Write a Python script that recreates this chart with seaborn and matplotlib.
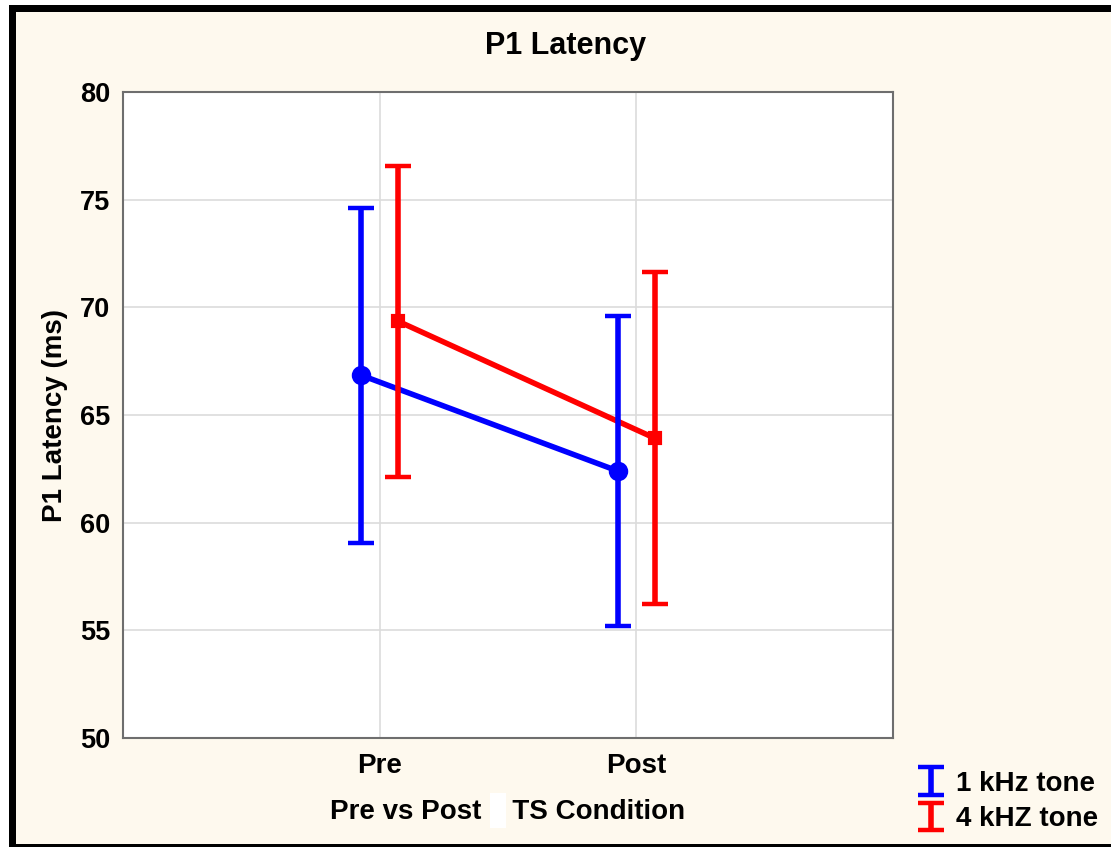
import numpy as np
import pandas as pd
import seaborn as sns
import matplotlib.pyplot as plt
from matplotlib.patches import Rectangle

# data (means and +/- error)
conditions = ['Pre', 'Post']
tones = ['1 kHz tone', '4 kHZ tone']
mean_1k = [66.85, 62.40]
mean_4k = [69.35, 63.92]
err_1k = [7.78, 7.22]
err_4k = [7.22, 7.70]

colors = ['#0000ff', '#ff0000']
bg = '#fef9ee'

df = pd.DataFrame({
    'condition': conditions * 2,
    'tone': [tones[0]] * 2 + [tones[1]] * 2,
    'latency': mean_1k + mean_4k,
})

sns.set_style('whitegrid')
plt.rcParams['font.family'] = ['Liberation Sans', 'DejaVu Sans']
plt.rcParams['font.weight'] = 'bold'
plt.rcParams['text.color'] = 'black'
plt.rcParams['axes.labelcolor'] = 'black'
plt.rcParams['xtick.color'] = 'black'
plt.rcParams['ytick.color'] = 'black'

W, H = 1111, 847
fig = plt.figure(figsize=(W / 100, H / 100), dpi=100)
fig.patch.set_facecolor('white')

# black frame + cream panel
fig.add_artist(Rectangle((9 / W, 0), 1, 1 - 5 / H, transform=fig.transFigure,
                         facecolor='black', edgecolor='none', zorder=-10))
fig.add_artist(Rectangle((16 / W, 3 / H), 1, 1 - 15 / H, transform=fig.transFigure,
                         facecolor=bg, edgecolor='none', zorder=-9))

ax = fig.add_axes([123 / W, 1 - 738 / H, 770 / W, 646 / H])
ax.set_facecolor('white')

dodge = 0.145
sns.pointplot(data=df, x='condition', y='latency', hue='tone', order=conditions,
              hue_order=tones, palette=colors, markers=['o', 's'], dodge=dodge,
              errorbar=None, legend=False, markersize=11, linewidth=4, ax=ax)
for ln in ax.lines:
    if ln.get_marker() == 's':
        ln.set_markersize(7)

handles = []
xs = np.arange(len(conditions))
for i, (m, e) in enumerate([(mean_1k, err_1k), (mean_4k, err_4k)]):
    off = (i - 0.5) * dodge
    eb = ax.errorbar(xs + off, m, yerr=e, fmt='none', ecolor=colors[i],
                     elinewidth=4, capsize=9.5, capthick=3.2, zorder=3 + i)
    handles.append(eb)

ax.set_xlim(-1, 2)
ax.set_ylim(50, 80)
ax.set_yticks(range(50, 81, 5))
ax.grid(True, color='#dcdcdc', linewidth=1.2)
for s in ax.spines.values():
    s.set_color('#6e6e6e')
    s.set_linewidth(1.5)
ax.tick_params(axis='x', length=0, labelsize=20, pad=11)
ax.tick_params(axis='y', length=0, labelsize=19.5, pad=9)
ax.set_ylabel('P1 Latency (ms)', fontsize=20, fontweight='bold', labelpad=9)
ax.set_xlabel('Pre vs Post    TS Condition', fontsize=20, fontweight='bold', labelpad=14)
for t in ax.get_xticklabels() + ax.get_yticklabels():
    t.set_fontweight('bold')

fig.text(566 / W, 1 - 46 / H, 'P1 Latency', ha='center', va='center',
         fontsize=22, fontweight='bold')

# the little white box in the x label
fig.add_artist(Rectangle((490 / W, 1 - 828 / H), 16 / W, 35 / H,
                         transform=fig.transFigure, facecolor='white',
                         edgecolor='none', zorder=5))

fig.legend(handles=handles, labels=tones, loc='upper left',
           bbox_to_anchor=(906 / W, 1 - 765 / H), frameon=False,
           fontsize=20, handlelength=1.4, handletextpad=0.2,
           labelspacing=0.35, borderaxespad=0, borderpad=0.2)

fig.savefig('out.png', dpi=100, facecolor=fig.get_facecolor())
